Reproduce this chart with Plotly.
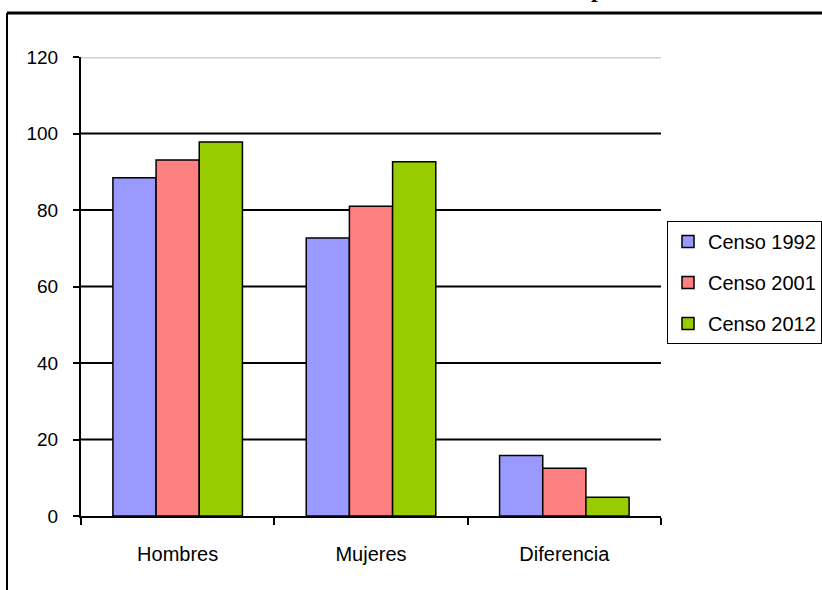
import plotly.graph_objects as go

# Categories and census series
categories = ["Hombres", "Mujeres", "Diferencia"]
series_names = ["Censo 1992", "Censo 2001", "Censo 2012"]
censo_1992 = [88.4, 72.7, 15.8]
censo_2001 = [93.1, 81.0, 12.5]
censo_2012 = [97.8, 92.6, 4.9]
series_values = [censo_1992, censo_2001, censo_2012]
series_colors = ["#9999ff", "#ff8080", "#99cc00"]

y_ticks = [0, 20, 40, 60, 80, 100, 120]
grid_values = [20, 40, 60, 80, 100]

W, H = 822, 590
L, R, T, B = 81, 161, 57, 74
plot_w = W - L - R
plot_h = H - T - B

FONT = "Liberation Sans, Arial, sans-serif"


def px_x(px):
    return (px - L) / plot_w


def px_y(py):
    return (H - B - py) / plot_h


fig = go.Figure()
for i, (name, vals, col) in enumerate(zip(series_names, series_values, series_colors)):
    fig.add_trace(go.Bar(
        x=categories, y=vals, name=name,
        marker=dict(color=col, line=dict(color="black", width=1.5)),
        legendgroup=f"g{i}",
    ))

shapes = []
# horizontal gridlines
for v in grid_values:
    shapes.append(dict(type="line", xref="paper", yref="y", x0=0, x1=1, y0=v, y1=v,
                       line=dict(color="black", width=2), layer="below"))
# light plot-area top border
shapes.append(dict(type="line", xref="paper", yref="y", x0=0, x1=1, y0=120, y1=120,
                   line=dict(color="#cfcfcf", width=3), layer="above"))
# outer chart frame (top and left edges)
shapes.append(dict(type="line", xref="paper", yref="paper",
                   x0=px_x(7), x1=px_x(830), y0=px_y(13), y1=px_y(13),
                   line=dict(color="black", width=3)))
shapes.append(dict(type="line", xref="paper", yref="paper",
                   x0=px_x(7), x1=px_x(7), y0=px_y(13), y1=px_y(600),
                   line=dict(color="black", width=2)))

fig.update_layout(
    width=W, height=H,
    margin=dict(l=L, r=R, t=T, b=B, autoexpand=False),
    paper_bgcolor="white", plot_bgcolor="white",
    barmode="group", bargap=0.33, bargroupgap=0,
    font=dict(family=FONT, color="black", size=19),
    showlegend=True,
    legend=dict(
        x=px_x(667), y=px_y(221), xanchor="left", yanchor="top",
        bordercolor="black", borderwidth=1, bgcolor="white",
        font=dict(size=20), tracegroupgap=12, itemwidth=30,
    ),
    shapes=shapes,
    annotations=[dict(text="<b>p</b>", xref="paper", yref="paper",
                      x=px_x(597), y=px_y(4), xanchor="center", yanchor="bottom",
                      showarrow=False,
                      font=dict(family="Liberation Serif, Times New Roman, serif", size=24))],
)

fig.update_xaxes(
    showline=True, linecolor="black", linewidth=2,
    ticks="outside", tickson="boundaries", ticklen=7, tickwidth=1.5, tickcolor="black",
    tickfont=dict(size=20), ticklabelstandoff=19,
    showgrid=False, zeroline=False,
)
fig.update_yaxes(
    range=[0, 120], tickvals=y_ticks,
    showline=True, linecolor="black", linewidth=2,
    ticks="outside", ticklen=6, tickwidth=1.5, tickcolor="black",
    ticklabelstandoff=11,
    showgrid=False, zeroline=False,
)

fig.write_html("out.html")
